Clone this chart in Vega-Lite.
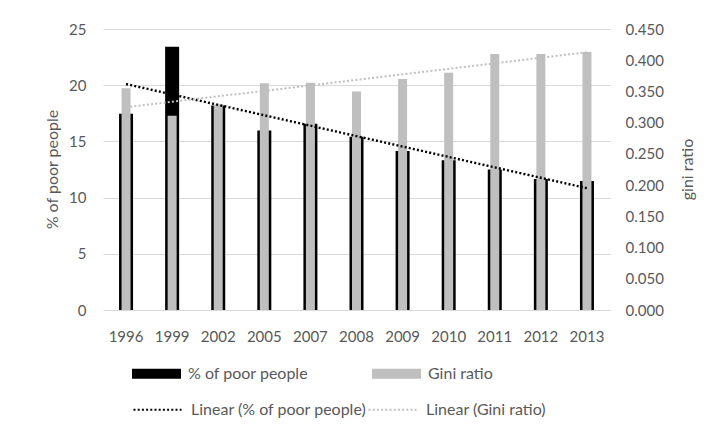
{
  "$schema": "https://vega.github.io/schema/vega-lite/v6.json",
  "width": 507,
  "height": 281,
  "autosize": "none",
  "padding": {"left": 103, "top": 29, "right": 97, "bottom": 120},
  "background": "white",
  "config": {
    "view": {"stroke": null},
    "font": "Lato",
    "axis": {
      "labelFont": "Lato",
      "labelFontSize": 15,
      "labelColor": "#595959",
      "titleFont": "Lato",
      "titleFontSize": 16,
      "titleFontWeight": "normal",
      "titleColor": "#595959",
      "ticks": false,
      "domain": false
    },
    "legend": {
      "labelFont": "Lato",
      "labelFontSize": 16,
      "labelColor": "#595959",
      "labelLimit": 400
    }
  },
  "data": {
    "values": [
      {"year": "1996", "idx": 1, "poor": 17.47, "gini": 0.355},
      {"year": "1999", "idx": 2, "poor": 23.43, "gini": 0.311},
      {"year": "2002", "idx": 3, "poor": 18.2, "gini": 0.329},
      {"year": "2005", "idx": 4, "poor": 15.97, "gini": 0.363},
      {"year": "2007", "idx": 5, "poor": 16.58, "gini": 0.364},
      {"year": "2008", "idx": 6, "poor": 15.42, "gini": 0.35},
      {"year": "2009", "idx": 7, "poor": 14.15, "gini": 0.37},
      {"year": "2010", "idx": 8, "poor": 13.33, "gini": 0.38},
      {"year": "2011", "idx": 9, "poor": 12.49, "gini": 0.41},
      {"year": "2012", "idx": 10, "poor": 11.66, "gini": 0.41},
      {"year": "2013", "idx": 11, "poor": 11.47, "gini": 0.413}
    ]
  },
  "layer": [
    {
      "mark": {"type": "bar", "width": 14},
      "encoding": {
        "x": {
          "field": "year", "type": "nominal", "sort": null,
          "scale": {"paddingInner": 0, "paddingOuter": 0},
          "axis": {"title": null, "labelAngle": 0, "labelPadding": 19}
        },
        "y": {
          "field": "poor", "type": "quantitative",
          "scale": {"domain": [0, 25], "nice": false},
          "axis": {
            "orient": "left", "title": "% of poor people",
            "values": [0, 5, 10, 15, 20, 25], "format": "d",
            "grid": true, "gridColor": "#d9d9d9", "gridWidth": 1,
            "labelPadding": 17,
            "titleX": -51, "titleY": 140, "titleAngle": 270,
            "titleAlign": "center", "titleBaseline": "middle"
          }
        },
        "color": {
          "datum": "% of poor people",
          "scale": {"domain": ["% of poor people", "Gini ratio"], "range": ["#000000", "#bfbfbf"]},
          "legend": {
            "title": null, "orient": "none", "direction": "horizontal", "columns": 2,
            "legendX": 29, "legendY": 320,
            "symbolType": "M-1,-0.2H1V0.2H-1Z", "symbolSize": 2401, "symbolStrokeWidth": 0,
            "labelOffset": 7, "columnPadding": 63
          }
        }
      }
    },
    {
      "mark": {"type": "bar", "width": 9},
      "encoding": {
        "x": {
          "field": "year", "type": "nominal", "sort": null,
          "scale": {"paddingInner": 0, "paddingOuter": 0},
          "axis": null
        },
        "y": {
          "field": "gini", "type": "quantitative",
          "scale": {"domain": [0, 0.45], "nice": false},
          "axis": {
            "orient": "right", "title": "gini ratio",
            "values": [0, 0.05, 0.1, 0.15, 0.2, 0.25, 0.3, 0.35, 0.4, 0.45], "format": ".3f",
            "grid": false, "labelPadding": 15,
            "titleX": 77, "titleY": 140, "titleAngle": 270,
            "titleAlign": "center", "titleBaseline": "middle"
          }
        },
        "color": {"datum": "Gini ratio"}
      }
    },
    {
      "transform": [{"regression": "poor", "on": "idx"}],
      "mark": {"type": "line", "strokeWidth": 2.4, "strokeDash": [2, 2.2], "strokeCap": "butt"},
      "encoding": {
        "x": {"field": "idx", "type": "quantitative", "scale": {"domain": [0.5, 11.5], "nice": false, "zero": false}, "axis": null},
        "y": {"field": "poor", "type": "quantitative", "scale": {"domain": [0, 25], "nice": false}, "axis": null},
        "stroke": {
          "datum": "Linear (% of poor people)",
          "scale": {"domain": ["Linear (% of poor people)", "Linear (Gini ratio)"], "range": ["#000000", "#bfbfbf"]},
          "legend": {
            "title": null, "orient": "none", "direction": "horizontal", "columns": 2,
            "legendX": 29, "legendY": 355,
            "symbolType": "stroke", "symbolSize": 2304, "symbolStrokeWidth": 2.2, "symbolDash": [2, 2.2],
            "labelOffset": 8, "columnPadding": -14
          }
        }
      }
    },
    {
      "transform": [{"regression": "gini", "on": "idx"}],
      "mark": {"type": "line", "strokeWidth": 2, "strokeDash": [2, 2.2], "strokeCap": "butt"},
      "encoding": {
        "x": {"field": "idx", "type": "quantitative", "scale": {"domain": [0.5, 11.5], "nice": false, "zero": false}, "axis": null},
        "y": {"field": "gini", "type": "quantitative", "scale": {"domain": [0, 0.45], "nice": false}, "axis": null},
        "stroke": {"datum": "Linear (Gini ratio)"}
      }
    }
  ],
  "resolve": {
    "scale": {"x": "independent", "y": "independent"}
  }
}
